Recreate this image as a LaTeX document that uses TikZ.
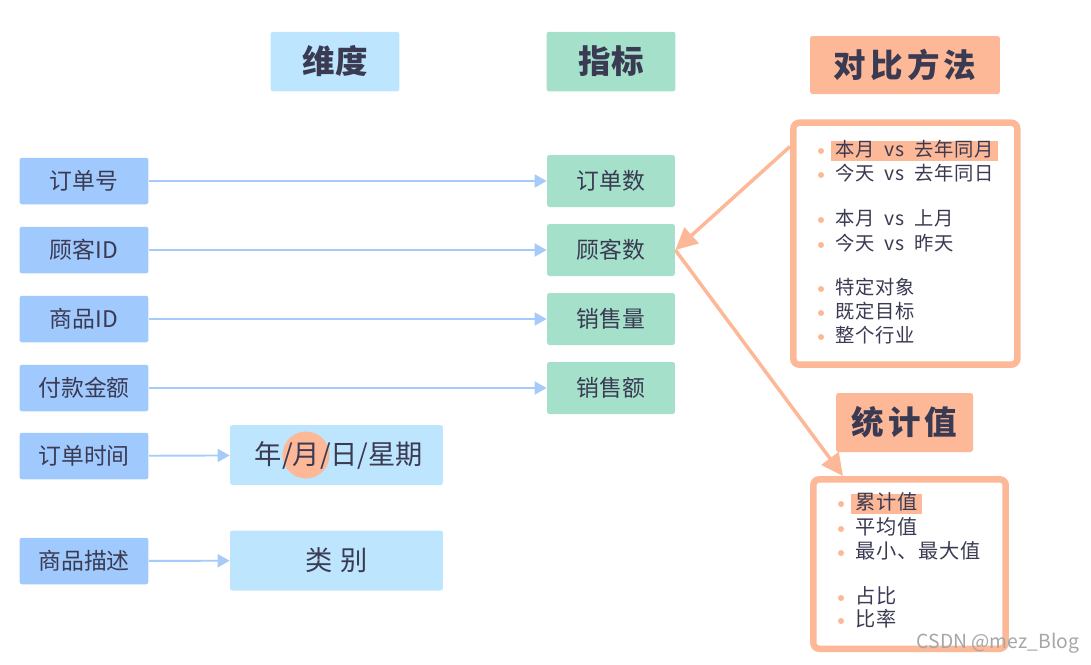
\documentclass[tikz,border=0pt]{standalone}
\usepackage{fontspec}
\setmainfont{Noto Sans CJK SC}
\newfontfamily\spaced[LetterSpace=13]{Noto Sans CJK SC}
\newfontfamily\listfont[LetterSpace=4]{Noto Sans CJK SC}
\usepackage{tikz}
\usetikzlibrary{arrows.meta}
\usetikzlibrary{calc}
\definecolor{dimblue}{RGB}{160,201,254}
\definecolor{lightblue}{RGB}{189,230,254}
\definecolor{metgreen}{RGB}{164,224,202}
\definecolor{salmon}{RGB}{253,184,152}
\definecolor{ink}{RGB}{58,58,82}
\definecolor{linkblue}{RGB}{166,203,250}
\tikzset{every edge/.style={draw}}
\tikzset{
  box/.style={inner sep=0, rounded corners=0.05cm, text=ink},
  header/.style={box, minimum width=2.58cm, minimum height=1.19cm, font=\fontsize{18.5}{22}\selectfont\bfseries},
  dimbox/.style={box, fill=dimblue, minimum width=2.58cm, minimum height=0.93cm},
  metbox/.style={box, fill=metgreen, minimum width=2.56cm, minimum height=1.04cm},
  catbox/.style={box, fill=lightblue, minimum width=4.26cm, minimum height=1.2cm},
  listbox/.style={draw=salmon, fill=white, line width=3.7pt, rounded corners=0.12cm, inner sep=0},
  item/.style={anchor=west, text=ink, inner xsep=0.08cm, inner ysep=0.025cm, text height=0.8em, text depth=0.2em},
  hilite/.style={item, fill=salmon},
  dot/.style={salmon},
  link/.style={draw=linkblue, line width=1.1pt, -{Triangle[length=0.24cm, width=0.26cm]}},
  hot/.style={draw=salmon, line width=2pt, -{Triangle[length=0.44cm, width=0.42cm]}}
}

\begin{document}
\begin{tikzpicture}[x=0.02cm, y=-0.02cm, every node/.style={font=\fontsize{13}{15}\selectfont}]
  \useasboundingbox (0, 0) rectangle (1091, 664);

  % headers
  \node[header, fill=lightblue] at (335, 61.5) (dimh) {维度};
  \node[header, fill=metgreen] at (611, 61.5) (meth) {指标};
  \node[header, fill=salmon, minimum width=3.8cm, minimum height=1.16cm] at (905, 65) (cmph) {\spaced 对比方法};
  \node[header, fill=salmon, minimum width=2.74cm, minimum height=1.18cm] at (904.5, 422.5) (stath) {\spaced 统计值};

  % dimensions
  \node[dimbox] at (84, 181) (ordno) {订单号};
  \node[dimbox] at (84, 250) (custid) {顾客ID};
  \node[dimbox] at (84, 319) (prodid) {商品ID};
  \node[dimbox] at (84, 388) (payamt) {付款金额};
  \node[dimbox] at (84, 456) (ordtime) {订单时间};
  \node[dimbox] at (84, 561) (proddesc) {商品描述};

  % metrics
  \node[metbox] at (611, 181) (ordcnt) {订单数};
  \node[metbox] at (611, 250) (custcnt) {顾客数};
  \node[metbox] at (611, 319) (salesqty) {销售量};
  \node[metbox] at (611, 388) (salesamt) {销售额};

  % derived
  \node[catbox] at (336.5, 455) (ymd) {};
  \fill[salmon] (306, 455) circle (23.5);
  \node[text=ink, font=\fontsize{15.5}{18}\selectfont] at (339, 455) (ymdtxt) {年/月/日/星期};
  \node[catbox, font=\fontsize{15.5}{18}\selectfont] at (336.5, 560.5) (cat) {类\hspace{0.3em}别};

  \draw (ordno) edge[link] (ordcnt);
  \draw (custid) edge[link] (custcnt);
  \draw (prodid) edge[link] (salesqty);
  \draw (payamt) edge[link] (salesamt);
  \draw (ordtime) edge[link] (ymd);
  \draw (proddesc) edge[link] (cat);

  % comparison
  \node[listbox, minimum width=4.48cm, minimum height=4.84cm] at (905.3, 243.7) (cmpbox) {};
  \begin{scope}[every node/.style={font=\fontsize{11}{13}\selectfont\listfont}]
  \node[hilite] at (831, 151) (c1) {本月\enspace vs\enspace 去年同月};
  \node[item] at (831, 175) (c2) {今天\enspace vs\enspace 去年同日};
  \node[item] at (831, 220) (c3) {本月\enspace vs\enspace 上月};
  \node[item] at (831, 245) (c4) {今天\enspace vs\enspace 昨天};
  \node[item] at (831, 289) (c5) {特定对象};
  \node[item] at (831, 313) (c6) {既定目标};
  \node[item] at (831, 337) (c7) {整个行业};
  \end{scope}
  \fill[dot] (821, 151) circle (3) (821, 175) circle (3)
             (821, 220) circle (3) (821, 245) circle (3)
             (821, 289) circle (3) (821, 313) circle (3) (821, 337) circle (3);

  % statistics
  \node[listbox, minimum width=3.85cm, minimum height=3.39cm] at (909.5, 564) (statbox) {};
  \begin{scope}[every node/.style={font=\fontsize{11.5}{13}\selectfont\listfont}]
  \node[hilite] at (851, 504) (s1) {累计值};
  \node[item] at (851, 529) (s2) {平均值};
  \node[item] at (851, 553) (s3) {最小、最大值};
  \node[item] at (851, 598) (s4) {占比};
  \node[item] at (851, 621) (s5) {比率};
  \end{scope}
  \fill[dot] (841, 504) circle (3) (841, 529) circle (3) (841, 553) circle (3)
             (841, 598) circle (3) (841, 621) circle (3);

  \coordinate (cmpport) at ($(cmpbox.north west)+(0, 27)$);
  \coordinate (statport) at ($(statbox.north west)+(33, 0)$);
  \draw[hot] (cmpport) -- (custcnt.east);
  \draw[hot] (custcnt.east) -- (statport);

  \node[text=gray!70, font=\fontsize{11}{13}\selectfont] at (998, 643) (wmark) {CSDN @mez\_Blog};
\end{tikzpicture}
\end{document}
